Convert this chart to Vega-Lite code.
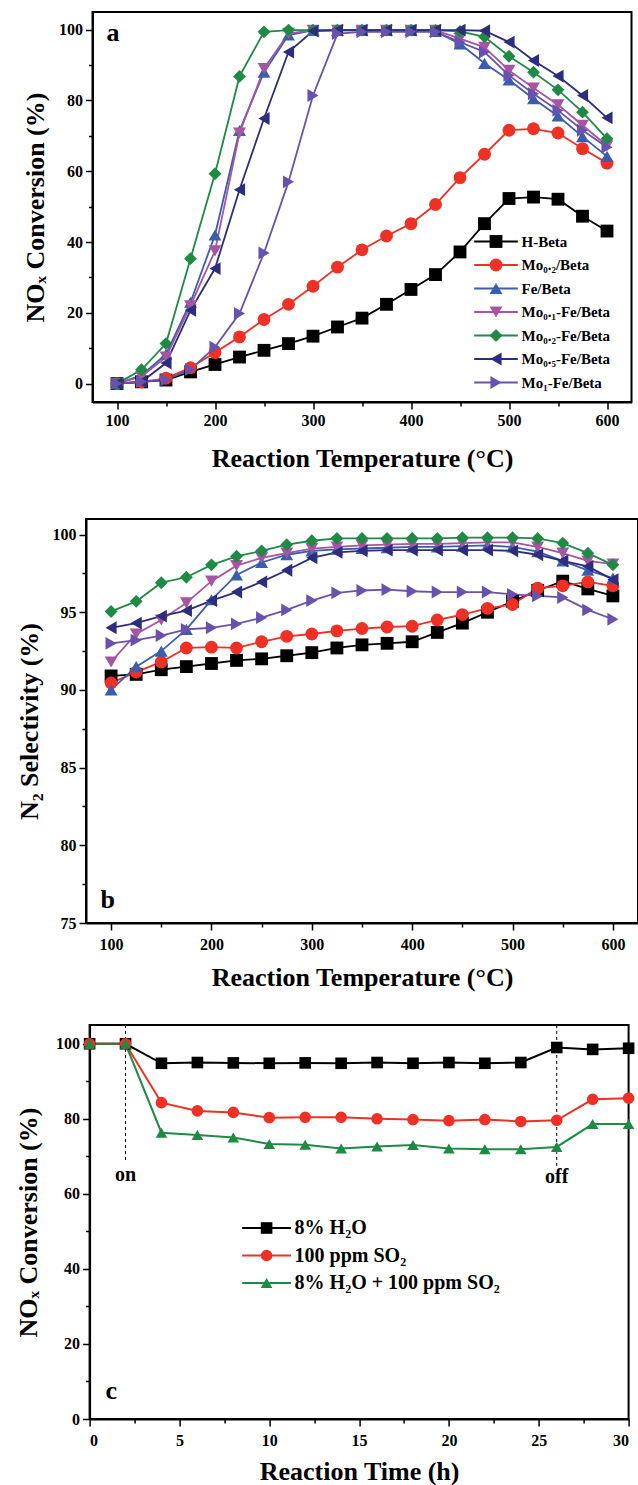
{
  "$schema": "https://vega.github.io/schema/vega-lite/v6.json",
  "background": "white",
  "padding": {"left": 14, "top": 11, "right": 0, "bottom": 0},
  "config": {
    "font": "Liberation Serif",
    "view": {"stroke": "black", "strokeWidth": 2},
    "axis": {"domainColor": "black", "domainWidth": 2, "tickColor": "black", "tickWidth": 1.5, "labelColor": "black", "titleColor": "black", "labelFont": "Liberation Serif", "titleFont": "Liberation Serif", "labelFontWeight": "bold", "titleFontWeight": "bold", "labelFontSize": 16, "titleFontSize": 26, "grid": false, "labelPadding": 3, "titlePadding": 10, "labelOverlap": false},
    "legend": {"labelFont": "Liberation Serif", "labelFontWeight": "bold", "labelColor": "black", "labelLimit": 0}
  },
  "datasets": {
    "a": [
      {"T":100,"s":"H-Beta","v":0},{"T":125,"s":"H-Beta","v":0.5},{"T":150,"s":"H-Beta","v":1},{"T":175,"s":"H-Beta","v":3.3},{"T":200,"s":"H-Beta","v":5.4},{"T":225,"s":"H-Beta","v":7.5},{"T":250,"s":"H-Beta","v":9.4},{"T":275,"s":"H-Beta","v":11.3},{"T":300,"s":"H-Beta","v":13.4},{"T":325,"s":"H-Beta","v":16},{"T":350,"s":"H-Beta","v":18.5},{"T":375,"s":"H-Beta","v":22.4},{"T":400,"s":"H-Beta","v":26.6},{"T":425,"s":"H-Beta","v":30.8},{"T":450,"s":"H-Beta","v":37.2},{"T":475,"s":"H-Beta","v":45.2},{"T":500,"s":"H-Beta","v":52.3},{"T":525,"s":"H-Beta","v":52.7},{"T":550,"s":"H-Beta","v":52.1},{"T":575,"s":"H-Beta","v":47.3},{"T":600,"s":"H-Beta","v":43.1},
      {"T":100,"s":"Mo₀.₂/Beta","v":0},{"T":125,"s":"Mo₀.₂/Beta","v":0.5},{"T":150,"s":"Mo₀.₂/Beta","v":1.5},{"T":175,"s":"Mo₀.₂/Beta","v":4.5},{"T":200,"s":"Mo₀.₂/Beta","v":8.8},{"T":225,"s":"Mo₀.₂/Beta","v":13.2},{"T":250,"s":"Mo₀.₂/Beta","v":18.1},{"T":275,"s":"Mo₀.₂/Beta","v":22.4},{"T":300,"s":"Mo₀.₂/Beta","v":27.5},{"T":325,"s":"Mo₀.₂/Beta","v":32.9},{"T":350,"s":"Mo₀.₂/Beta","v":37.8},{"T":375,"s":"Mo₀.₂/Beta","v":41.7},{"T":400,"s":"Mo₀.₂/Beta","v":45.2},{"T":425,"s":"Mo₀.₂/Beta","v":50.6},{"T":450,"s":"Mo₀.₂/Beta","v":58.2},{"T":475,"s":"Mo₀.₂/Beta","v":64.8},{"T":500,"s":"Mo₀.₂/Beta","v":71.6},{"T":525,"s":"Mo₀.₂/Beta","v":72},{"T":550,"s":"Mo₀.₂/Beta","v":70.8},{"T":575,"s":"Mo₀.₂/Beta","v":66.4},{"T":600,"s":"Mo₀.₂/Beta","v":62.3},
      {"T":100,"s":"Fe/Beta","v":0},{"T":125,"s":"Fe/Beta","v":2.3},{"T":150,"s":"Fe/Beta","v":8.3},{"T":175,"s":"Fe/Beta","v":23},{"T":200,"s":"Fe/Beta","v":42},{"T":225,"s":"Fe/Beta","v":71.5},{"T":250,"s":"Fe/Beta","v":88},{"T":275,"s":"Fe/Beta","v":98.5},{"T":300,"s":"Fe/Beta","v":99.8},{"T":325,"s":"Fe/Beta","v":99.8},{"T":350,"s":"Fe/Beta","v":99.8},{"T":375,"s":"Fe/Beta","v":99.8},{"T":400,"s":"Fe/Beta","v":99.8},{"T":425,"s":"Fe/Beta","v":99.5},{"T":450,"s":"Fe/Beta","v":96},{"T":475,"s":"Fe/Beta","v":90.5},{"T":500,"s":"Fe/Beta","v":85.8},{"T":525,"s":"Fe/Beta","v":80.5},{"T":550,"s":"Fe/Beta","v":75.6},{"T":575,"s":"Fe/Beta","v":69.8},{"T":600,"s":"Fe/Beta","v":64.2},
      {"T":100,"s":"Mo₀.₁-Fe/Beta","v":0},{"T":125,"s":"Mo₀.₁-Fe/Beta","v":2},{"T":150,"s":"Mo₀.₁-Fe/Beta","v":7.5},{"T":175,"s":"Mo₀.₁-Fe/Beta","v":22},{"T":200,"s":"Mo₀.₁-Fe/Beta","v":37.5},{"T":225,"s":"Mo₀.₁-Fe/Beta","v":70.8},{"T":250,"s":"Mo₀.₁-Fe/Beta","v":89},{"T":275,"s":"Mo₀.₁-Fe/Beta","v":99},{"T":300,"s":"Mo₀.₁-Fe/Beta","v":99.8},{"T":325,"s":"Mo₀.₁-Fe/Beta","v":99.8},{"T":350,"s":"Mo₀.₁-Fe/Beta","v":99.8},{"T":375,"s":"Mo₀.₁-Fe/Beta","v":99.8},{"T":400,"s":"Mo₀.₁-Fe/Beta","v":99.8},{"T":425,"s":"Mo₀.₁-Fe/Beta","v":99.8},{"T":450,"s":"Mo₀.₁-Fe/Beta","v":97.5},{"T":475,"s":"Mo₀.₁-Fe/Beta","v":95},{"T":500,"s":"Mo₀.₁-Fe/Beta","v":88.5},{"T":525,"s":"Mo₀.₁-Fe/Beta","v":83.5},{"T":550,"s":"Mo₀.₁-Fe/Beta","v":78.8},{"T":575,"s":"Mo₀.₁-Fe/Beta","v":73},{"T":600,"s":"Mo₀.₁-Fe/Beta","v":67.2},
      {"T":100,"s":"Mo₀.₂-Fe/Beta","v":0},{"T":125,"s":"Mo₀.₂-Fe/Beta","v":3.9},{"T":150,"s":"Mo₀.₂-Fe/Beta","v":11.3},{"T":175,"s":"Mo₀.₂-Fe/Beta","v":35.3},{"T":200,"s":"Mo₀.₂-Fe/Beta","v":59.3},{"T":225,"s":"Mo₀.₂-Fe/Beta","v":86.8},{"T":250,"s":"Mo₀.₂-Fe/Beta","v":99.4},{"T":275,"s":"Mo₀.₂-Fe/Beta","v":99.9},{"T":300,"s":"Mo₀.₂-Fe/Beta","v":99.9},{"T":325,"s":"Mo₀.₂-Fe/Beta","v":99.9},{"T":350,"s":"Mo₀.₂-Fe/Beta","v":99.9},{"T":375,"s":"Mo₀.₂-Fe/Beta","v":99.9},{"T":400,"s":"Mo₀.₂-Fe/Beta","v":99.9},{"T":425,"s":"Mo₀.₂-Fe/Beta","v":99.8},{"T":450,"s":"Mo₀.₂-Fe/Beta","v":99.5},{"T":475,"s":"Mo₀.₂-Fe/Beta","v":98},{"T":500,"s":"Mo₀.₂-Fe/Beta","v":92.5},{"T":525,"s":"Mo₀.₂-Fe/Beta","v":88},{"T":550,"s":"Mo₀.₂-Fe/Beta","v":83},{"T":575,"s":"Mo₀.₂-Fe/Beta","v":76.7},{"T":600,"s":"Mo₀.₂-Fe/Beta","v":69.2},
      {"T":100,"s":"Mo₀.₅-Fe/Beta","v":0},{"T":125,"s":"Mo₀.₅-Fe/Beta","v":0.5},{"T":150,"s":"Mo₀.₅-Fe/Beta","v":5.8},{"T":175,"s":"Mo₀.₅-Fe/Beta","v":20.7},{"T":200,"s":"Mo₀.₅-Fe/Beta","v":32.5},{"T":225,"s":"Mo₀.₅-Fe/Beta","v":54.8},{"T":250,"s":"Mo₀.₅-Fe/Beta","v":74.9},{"T":275,"s":"Mo₀.₅-Fe/Beta","v":93.7},{"T":300,"s":"Mo₀.₅-Fe/Beta","v":99.6},{"T":325,"s":"Mo₀.₅-Fe/Beta","v":99.9},{"T":350,"s":"Mo₀.₅-Fe/Beta","v":99.9},{"T":375,"s":"Mo₀.₅-Fe/Beta","v":99.9},{"T":400,"s":"Mo₀.₅-Fe/Beta","v":99.9},{"T":425,"s":"Mo₀.₅-Fe/Beta","v":99.9},{"T":450,"s":"Mo₀.₅-Fe/Beta","v":99.9},{"T":475,"s":"Mo₀.₅-Fe/Beta","v":99.7},{"T":500,"s":"Mo₀.₅-Fe/Beta","v":96.5},{"T":525,"s":"Mo₀.₅-Fe/Beta","v":91.3},{"T":550,"s":"Mo₀.₅-Fe/Beta","v":86.9},{"T":575,"s":"Mo₀.₅-Fe/Beta","v":81.4},{"T":600,"s":"Mo₀.₅-Fe/Beta","v":75.1},
      {"T":100,"s":"Mo₁-Fe/Beta","v":0},{"T":125,"s":"Mo₁-Fe/Beta","v":0.5},{"T":150,"s":"Mo₁-Fe/Beta","v":1.1},{"T":175,"s":"Mo₁-Fe/Beta","v":4},{"T":200,"s":"Mo₁-Fe/Beta","v":10.3},{"T":225,"s":"Mo₁-Fe/Beta","v":19.8},{"T":250,"s":"Mo₁-Fe/Beta","v":36.9},{"T":275,"s":"Mo₁-Fe/Beta","v":57},{"T":300,"s":"Mo₁-Fe/Beta","v":81.4},{"T":325,"s":"Mo₁-Fe/Beta","v":98.9},{"T":350,"s":"Mo₁-Fe/Beta","v":99.4},{"T":375,"s":"Mo₁-Fe/Beta","v":99.4},{"T":400,"s":"Mo₁-Fe/Beta","v":99.4},{"T":425,"s":"Mo₁-Fe/Beta","v":99.4},{"T":450,"s":"Mo₁-Fe/Beta","v":96.5},{"T":475,"s":"Mo₁-Fe/Beta","v":93.7},{"T":500,"s":"Mo₁-Fe/Beta","v":87.1},{"T":525,"s":"Mo₁-Fe/Beta","v":81.9},{"T":550,"s":"Mo₁-Fe/Beta","v":77.2},{"T":575,"s":"Mo₁-Fe/Beta","v":71.6},{"T":600,"s":"Mo₁-Fe/Beta","v":66.8}
    ],
    "b": [
      {"T":100,"s":"H-Beta","v":90.9},{"T":125,"s":"H-Beta","v":91.0},{"T":150,"s":"H-Beta","v":91.3},{"T":175,"s":"H-Beta","v":91.5},{"T":200,"s":"H-Beta","v":91.7},{"T":225,"s":"H-Beta","v":91.9},{"T":250,"s":"H-Beta","v":92.0},{"T":275,"s":"H-Beta","v":92.2},{"T":300,"s":"H-Beta","v":92.4},{"T":325,"s":"H-Beta","v":92.7},{"T":350,"s":"H-Beta","v":92.9},{"T":375,"s":"H-Beta","v":93.0},{"T":400,"s":"H-Beta","v":93.1},{"T":425,"s":"H-Beta","v":93.7},{"T":450,"s":"H-Beta","v":94.3},{"T":475,"s":"H-Beta","v":95.0},{"T":500,"s":"H-Beta","v":95.7},{"T":525,"s":"H-Beta","v":96.4},{"T":550,"s":"H-Beta","v":97.0},{"T":575,"s":"H-Beta","v":96.5},{"T":600,"s":"H-Beta","v":96.05},
      {"T":100,"s":"Mo₀.₂/Beta","v":90.45},{"T":125,"s":"Mo₀.₂/Beta","v":91.15},{"T":150,"s":"Mo₀.₂/Beta","v":91.8},{"T":175,"s":"Mo₀.₂/Beta","v":92.7},{"T":200,"s":"Mo₀.₂/Beta","v":92.75},{"T":225,"s":"Mo₀.₂/Beta","v":92.7},{"T":250,"s":"Mo₀.₂/Beta","v":93.1},{"T":275,"s":"Mo₀.₂/Beta","v":93.45},{"T":300,"s":"Mo₀.₂/Beta","v":93.6},{"T":325,"s":"Mo₀.₂/Beta","v":93.8},{"T":350,"s":"Mo₀.₂/Beta","v":93.95},{"T":375,"s":"Mo₀.₂/Beta","v":94.05},{"T":400,"s":"Mo₀.₂/Beta","v":94.1},{"T":425,"s":"Mo₀.₂/Beta","v":94.5},{"T":450,"s":"Mo₀.₂/Beta","v":94.85},{"T":475,"s":"Mo₀.₂/Beta","v":95.25},{"T":500,"s":"Mo₀.₂/Beta","v":95.5},{"T":525,"s":"Mo₀.₂/Beta","v":96.55},{"T":550,"s":"Mo₀.₂/Beta","v":96.7},{"T":575,"s":"Mo₀.₂/Beta","v":96.95},{"T":600,"s":"Mo₀.₂/Beta","v":96.7},
      {"T":100,"s":"Fe/Beta","v":90.0},{"T":125,"s":"Fe/Beta","v":91.5},{"T":150,"s":"Fe/Beta","v":92.5},{"T":175,"s":"Fe/Beta","v":93.9},{"T":200,"s":"Fe/Beta","v":95.8},{"T":225,"s":"Fe/Beta","v":97.4},{"T":250,"s":"Fe/Beta","v":98.2},{"T":275,"s":"Fe/Beta","v":98.7},{"T":300,"s":"Fe/Beta","v":98.95},{"T":325,"s":"Fe/Beta","v":99.05},{"T":350,"s":"Fe/Beta","v":99.1},{"T":375,"s":"Fe/Beta","v":99.15},{"T":400,"s":"Fe/Beta","v":99.2},{"T":425,"s":"Fe/Beta","v":99.2},{"T":450,"s":"Fe/Beta","v":99.25},{"T":475,"s":"Fe/Beta","v":99.3},{"T":500,"s":"Fe/Beta","v":99.2},{"T":525,"s":"Fe/Beta","v":98.9},{"T":550,"s":"Fe/Beta","v":98.3},{"T":575,"s":"Fe/Beta","v":97.7},{"T":600,"s":"Fe/Beta","v":97.2},
      {"T":100,"s":"Mo₀.₁-Fe/Beta","v":91.8},{"T":125,"s":"Mo₀.₁-Fe/Beta","v":93.6},{"T":150,"s":"Mo₀.₁-Fe/Beta","v":94.5},{"T":175,"s":"Mo₀.₁-Fe/Beta","v":95.6},{"T":200,"s":"Mo₀.₁-Fe/Beta","v":97.0},{"T":225,"s":"Mo₀.₁-Fe/Beta","v":98.0},{"T":250,"s":"Mo₀.₁-Fe/Beta","v":98.5},{"T":275,"s":"Mo₀.₁-Fe/Beta","v":98.8},{"T":300,"s":"Mo₀.₁-Fe/Beta","v":99.1},{"T":325,"s":"Mo₀.₁-Fe/Beta","v":99.2},{"T":350,"s":"Mo₀.₁-Fe/Beta","v":99.3},{"T":375,"s":"Mo₀.₁-Fe/Beta","v":99.35},{"T":400,"s":"Mo₀.₁-Fe/Beta","v":99.4},{"T":425,"s":"Mo₀.₁-Fe/Beta","v":99.4},{"T":450,"s":"Mo₀.₁-Fe/Beta","v":99.45},{"T":475,"s":"Mo₀.₁-Fe/Beta","v":99.5},{"T":500,"s":"Mo₀.₁-Fe/Beta","v":99.5},{"T":525,"s":"Mo₀.₁-Fe/Beta","v":99.2},{"T":550,"s":"Mo₀.₁-Fe/Beta","v":98.8},{"T":575,"s":"Mo₀.₁-Fe/Beta","v":98.3},{"T":600,"s":"Mo₀.₁-Fe/Beta","v":98.1},
      {"T":100,"s":"Mo₀.₂-Fe/Beta","v":95.05},{"T":125,"s":"Mo₀.₂-Fe/Beta","v":95.7},{"T":150,"s":"Mo₀.₂-Fe/Beta","v":96.9},{"T":175,"s":"Mo₀.₂-Fe/Beta","v":97.25},{"T":200,"s":"Mo₀.₂-Fe/Beta","v":98.05},{"T":225,"s":"Mo₀.₂-Fe/Beta","v":98.6},{"T":250,"s":"Mo₀.₂-Fe/Beta","v":98.95},{"T":275,"s":"Mo₀.₂-Fe/Beta","v":99.35},{"T":300,"s":"Mo₀.₂-Fe/Beta","v":99.6},{"T":325,"s":"Mo₀.₂-Fe/Beta","v":99.75},{"T":350,"s":"Mo₀.₂-Fe/Beta","v":99.75},{"T":375,"s":"Mo₀.₂-Fe/Beta","v":99.75},{"T":400,"s":"Mo₀.₂-Fe/Beta","v":99.75},{"T":425,"s":"Mo₀.₂-Fe/Beta","v":99.75},{"T":450,"s":"Mo₀.₂-Fe/Beta","v":99.8},{"T":475,"s":"Mo₀.₂-Fe/Beta","v":99.8},{"T":500,"s":"Mo₀.₂-Fe/Beta","v":99.8},{"T":525,"s":"Mo₀.₂-Fe/Beta","v":99.75},{"T":550,"s":"Mo₀.₂-Fe/Beta","v":99.45},{"T":575,"s":"Mo₀.₂-Fe/Beta","v":98.8},{"T":600,"s":"Mo₀.₂-Fe/Beta","v":98.05},
      {"T":100,"s":"Mo₀.₅-Fe/Beta","v":94.0},{"T":125,"s":"Mo₀.₅-Fe/Beta","v":94.3},{"T":150,"s":"Mo₀.₅-Fe/Beta","v":94.75},{"T":175,"s":"Mo₀.₅-Fe/Beta","v":95.1},{"T":200,"s":"Mo₀.₅-Fe/Beta","v":95.75},{"T":225,"s":"Mo₀.₅-Fe/Beta","v":96.3},{"T":250,"s":"Mo₀.₅-Fe/Beta","v":96.95},{"T":275,"s":"Mo₀.₅-Fe/Beta","v":97.7},{"T":300,"s":"Mo₀.₅-Fe/Beta","v":98.5},{"T":325,"s":"Mo₀.₅-Fe/Beta","v":98.85},{"T":350,"s":"Mo₀.₅-Fe/Beta","v":98.95},{"T":375,"s":"Mo₀.₅-Fe/Beta","v":99.0},{"T":400,"s":"Mo₀.₅-Fe/Beta","v":99.0},{"T":425,"s":"Mo₀.₅-Fe/Beta","v":99.0},{"T":450,"s":"Mo₀.₅-Fe/Beta","v":99.0},{"T":475,"s":"Mo₀.₅-Fe/Beta","v":99.0},{"T":500,"s":"Mo₀.₅-Fe/Beta","v":98.95},{"T":525,"s":"Mo₀.₅-Fe/Beta","v":98.7},{"T":550,"s":"Mo₀.₅-Fe/Beta","v":98.3},{"T":575,"s":"Mo₀.₅-Fe/Beta","v":97.95},{"T":600,"s":"Mo₀.₅-Fe/Beta","v":97.1},
      {"T":100,"s":"Mo₁-Fe/Beta","v":93.0},{"T":125,"s":"Mo₁-Fe/Beta","v":93.2},{"T":150,"s":"Mo₁-Fe/Beta","v":93.5},{"T":175,"s":"Mo₁-Fe/Beta","v":93.9},{"T":200,"s":"Mo₁-Fe/Beta","v":94.0},{"T":225,"s":"Mo₁-Fe/Beta","v":94.25},{"T":250,"s":"Mo₁-Fe/Beta","v":94.65},{"T":275,"s":"Mo₁-Fe/Beta","v":95.15},{"T":300,"s":"Mo₁-Fe/Beta","v":95.75},{"T":325,"s":"Mo₁-Fe/Beta","v":96.25},{"T":350,"s":"Mo₁-Fe/Beta","v":96.4},{"T":375,"s":"Mo₁-Fe/Beta","v":96.45},{"T":400,"s":"Mo₁-Fe/Beta","v":96.35},{"T":425,"s":"Mo₁-Fe/Beta","v":96.3},{"T":450,"s":"Mo₁-Fe/Beta","v":96.3},{"T":475,"s":"Mo₁-Fe/Beta","v":96.3},{"T":500,"s":"Mo₁-Fe/Beta","v":96.15},{"T":525,"s":"Mo₁-Fe/Beta","v":96.05},{"T":550,"s":"Mo₁-Fe/Beta","v":95.95},{"T":575,"s":"Mo₁-Fe/Beta","v":95.15},{"T":600,"s":"Mo₁-Fe/Beta","v":94.55}
    ],
    "c": [
      {"t":0,"s":"8% H₂O","v":100},{"t":2,"s":"8% H₂O","v":100},{"t":4,"s":"8% H₂O","v":94.8},{"t":6,"s":"8% H₂O","v":95},{"t":8,"s":"8% H₂O","v":94.9},{"t":10,"s":"8% H₂O","v":94.8},{"t":12,"s":"8% H₂O","v":94.9},{"t":14,"s":"8% H₂O","v":94.8},{"t":16,"s":"8% H₂O","v":95},{"t":18,"s":"8% H₂O","v":94.8},{"t":20,"s":"8% H₂O","v":95},{"t":22,"s":"8% H₂O","v":94.8},{"t":24,"s":"8% H₂O","v":95},{"t":26,"s":"8% H₂O","v":99},{"t":28,"s":"8% H₂O","v":98.5},{"t":30,"s":"8% H₂O","v":98.8},
      {"t":0,"s":"100 ppm SO₂","v":100},{"t":2,"s":"100 ppm SO₂","v":100},{"t":4,"s":"100 ppm SO₂","v":84.3},{"t":6,"s":"100 ppm SO₂","v":82.1},{"t":8,"s":"100 ppm SO₂","v":81.7},{"t":10,"s":"100 ppm SO₂","v":80.3},{"t":12,"s":"100 ppm SO₂","v":80.4},{"t":14,"s":"100 ppm SO₂","v":80.4},{"t":16,"s":"100 ppm SO₂","v":80},{"t":18,"s":"100 ppm SO₂","v":79.8},{"t":20,"s":"100 ppm SO₂","v":79.5},{"t":22,"s":"100 ppm SO₂","v":79.8},{"t":24,"s":"100 ppm SO₂","v":79.3},{"t":26,"s":"100 ppm SO₂","v":79.6},{"t":28,"s":"100 ppm SO₂","v":85.2},{"t":30,"s":"100 ppm SO₂","v":85.5},
      {"t":0,"s":"8% H₂O + 100 ppm SO₂","v":100},{"t":2,"s":"8% H₂O + 100 ppm SO₂","v":100},{"t":4,"s":"8% H₂O + 100 ppm SO₂","v":76.3},{"t":6,"s":"8% H₂O + 100 ppm SO₂","v":75.7},{"t":8,"s":"8% H₂O + 100 ppm SO₂","v":75},{"t":10,"s":"8% H₂O + 100 ppm SO₂","v":73.3},{"t":12,"s":"8% H₂O + 100 ppm SO₂","v":73.1},{"t":14,"s":"8% H₂O + 100 ppm SO₂","v":72.1},{"t":16,"s":"8% H₂O + 100 ppm SO₂","v":72.6},{"t":18,"s":"8% H₂O + 100 ppm SO₂","v":73},{"t":20,"s":"8% H₂O + 100 ppm SO₂","v":72.1},{"t":22,"s":"8% H₂O + 100 ppm SO₂","v":71.9},{"t":24,"s":"8% H₂O + 100 ppm SO₂","v":71.9},{"t":26,"s":"8% H₂O + 100 ppm SO₂","v":72.5},{"t":28,"s":"8% H₂O + 100 ppm SO₂","v":78.6},{"t":30,"s":"8% H₂O + 100 ppm SO₂","v":78.6}
    ],
    "labA": [{"T":95.8,"v":99.2,"txt":"a"}],
    "labB": [{"T":96.6,"v":76.5,"txt":"b"}],
    "labC": [{"t":1.2,"v":7.5,"txt":"c"}],
    "cRules": [{"t":2,"v":105,"v2":69},{"t":26,"v":105,"v2":67}],
    "cText": [{"t":2,"v":65,"txt":"on"},{"t":26,"v":64.5,"txt":"off"}]
  },
  "spacing": 32,
  "center": true,
  "resolve": {"scale": {"x": "independent", "y": "independent", "color": "independent", "shape": "independent", "stroke": "independent"}, "legend": {"color": "independent", "shape": "independent", "stroke": "independent"}},
  "vconcat": [
    {
      "width": 539, "height": 390,
      "encoding": {
        "x": {"field": "T", "type": "quantitative", "title": "Reaction Temperature (°C)", "scale": {"domain": [75, 625], "nice": false, "zero": false},
          "axis": {"values": [100,150,200,250,300,350,400,450,500,550,600], "labelExpr": "datum.value % 100 === 0 ? datum.label : ''", "tickSize": {"condition": {"test": "datum.value % 100 === 0", "value": 7}, "value": 4}, "titlePadding": 17}},
        "y": {"field": "v", "type": "quantitative", "title": "NOₓ Conversion (%)", "scale": {"domain": [-5.2, 105], "nice": false, "zero": false},
          "axis": {"values": [0,10,20,30,40,50,60,70,80,90,100], "labelExpr": "datum.value % 20 === 0 ? datum.label : ''", "tickSize": {"condition": {"test": "datum.value % 20 === 0", "value": 7}, "value": 4}}}
      },
      "layer": [
        {"data": {"name": "a"}, "mark": {"type": "line", "strokeWidth": 1.8},
          "encoding": {"stroke": {"field": "s", "type": "nominal",
            "legend": {"orient": "none", "legendX": 396, "legendY": 222, "title": null, "values": ["H-Beta","Mo₀.₂/Beta","Fe/Beta","Mo₀.₁-Fe/Beta","Mo₀.₂-Fe/Beta","Mo₀.₅-Fe/Beta","Mo₁-Fe/Beta"], "symbolType": "M-3.4,0H3.4", "symbolSize": 165, "symbolStrokeWidth": 1.8, "labelFontSize": 15, "labelOpacity": 0, "rowPadding": 7.5, "labelOffset": 18, "padding": 0},
            "scale": {"domain": ["Mo₁-Fe/Beta","Mo₀.₅-Fe/Beta","Mo₀.₂-Fe/Beta","Mo₀.₁-Fe/Beta","Fe/Beta","Mo₀.₂/Beta","H-Beta"], "range": ["#6952AE","#2E2C7C","#1F8A44","#A754A3","#3A5DAE","#EE3124","#000000"]}}}},
        {"data": {"name": "a"}, "mark": {"type": "point", "filled": true, "opacity": 1, "size": 165},
          "encoding": {
            "color": {"field": "s", "type": "nominal", "scale": {"domain": ["H-Beta","Mo₀.₂/Beta","Fe/Beta","Mo₀.₁-Fe/Beta","Mo₀.₂-Fe/Beta","Mo₀.₅-Fe/Beta","Mo₁-Fe/Beta"], "range": ["#000000","#EE3124","#3A5DAE","#A754A3","#1F8A44","#2E2C7C","#6952AE"]},
              "legend": {"orient": "none", "legendX": 396, "legendY": 222, "title": null, "labelFontSize": 15, "symbolSize": 165, "rowPadding": 7.5, "labelOffset": 18, "padding": 0, "symbolStrokeWidth": 0}},
            "shape": {"field": "s", "type": "nominal", "scale": {"domain": ["H-Beta","Mo₀.₂/Beta","Fe/Beta","Mo₀.₁-Fe/Beta","Mo₀.₂-Fe/Beta","Mo₀.₅-Fe/Beta","Mo₁-Fe/Beta"], "range": ["square","circle","triangle-up","triangle-down","diamond","triangle-left","triangle-right"]},
              "legend": {"orient": "none", "legendX": 396, "legendY": 222, "title": null, "labelFontSize": 15, "symbolSize": 165, "rowPadding": 7.5, "labelOffset": 18, "padding": 0, "symbolStrokeWidth": 0}}
          }},
        {"data": {"name": "labA"}, "mark": {"type": "text", "fontSize": 26, "fontWeight": "bold", "font": "Liberation Serif", "color": "black"},
          "encoding": {"text": {"field": "txt"}}}
      ]
    },
    {
      "width": 552, "height": 404,
      "title": {"text": " ", "fontSize": 1, "offset": 13},
      "encoding": {
        "x": {"field": "T", "type": "quantitative", "title": "Reaction Temperature (°C)", "scale": {"domain": [75, 625], "nice": false, "zero": false},
          "axis": {"values": [100,150,200,250,300,350,400,450,500,550,600], "labelExpr": "datum.value % 100 === 0 ? datum.label : ''", "tickSize": {"condition": {"test": "datum.value % 100 === 0", "value": 7}, "value": 4}, "labelPadding": 6, "titlePadding": 12}},
        "y": {"field": "v", "type": "quantitative", "title": "N₂ Selectivity (%)", "scale": {"domain": [75, 101], "nice": false, "zero": false},
          "axis": {"values": [75,77.5,80,82.5,85,87.5,90,92.5,95,97.5,100], "labelExpr": "datum.value % 5 === 0 ? datum.label : ''", "tickSize": {"condition": {"test": "datum.value % 5 === 0", "value": 7}, "value": 4}}}
      },
      "layer": [
        {"data": {"name": "b"}, "mark": {"type": "line", "strokeWidth": 1.8},
          "encoding": {"stroke": {"field": "s", "type": "nominal", "legend": null, "scale": {"domain": ["H-Beta","Mo₀.₂/Beta","Fe/Beta","Mo₀.₁-Fe/Beta","Mo₀.₂-Fe/Beta","Mo₀.₅-Fe/Beta","Mo₁-Fe/Beta"], "range": ["#000000","#EE3124","#3A5DAE","#A754A3","#1F8A44","#2E2C7C","#6952AE"]}}}},
        {"data": {"name": "b"}, "mark": {"type": "point", "filled": true, "opacity": 1, "size": 165},
          "encoding": {
            "color": {"field": "s", "type": "nominal", "legend": null, "scale": {"domain": ["H-Beta","Mo₀.₂/Beta","Fe/Beta","Mo₀.₁-Fe/Beta","Mo₀.₂-Fe/Beta","Mo₀.₅-Fe/Beta","Mo₁-Fe/Beta"], "range": ["#000000","#EE3124","#3A5DAE","#A754A3","#1F8A44","#2E2C7C","#6952AE"]}},
            "shape": {"field": "s", "type": "nominal", "legend": null, "scale": {"domain": ["H-Beta","Mo₀.₂/Beta","Fe/Beta","Mo₀.₁-Fe/Beta","Mo₀.₂-Fe/Beta","Mo₀.₅-Fe/Beta","Mo₁-Fe/Beta"], "range": ["square","circle","triangle-up","triangle-down","diamond","triangle-left","triangle-right"]}}
          }},
        {"data": {"name": "labB"}, "mark": {"type": "text", "fontSize": 26, "fontWeight": "bold", "font": "Liberation Serif", "color": "black"},
          "encoding": {"text": {"field": "txt"}}}
      ]
    },
    {
      "width": 539, "height": 394,
      "encoding": {
        "x": {"field": "t", "type": "quantitative", "title": "Reaction Time (h)", "scale": {"domain": [0, 30], "nice": false},
          "axis": {"values": [0,2.5,5,7.5,10,12.5,15,17.5,20,22.5,25,27.5,30], "labelExpr": "datum.value % 5 === 0 ? datum.label : ''", "tickSize": {"condition": {"test": "datum.value % 5 === 0", "value": 7}, "value": 4}, "labelPadding": 6, "titlePadding": 10}},
        "y": {"field": "v", "type": "quantitative", "title": "NOₓ Conversion (%)", "scale": {"domain": [0, 105], "nice": false},
          "axis": {"values": [0,10,20,30,40,50,60,70,80,90,100], "labelExpr": "datum.value % 20 === 0 ? datum.label : ''", "tickSize": {"condition": {"test": "datum.value % 20 === 0", "value": 7}, "value": 4}, "titlePadding": 14}}
      },
      "layer": [
        {"data": {"name": "cRules"}, "mark": {"type": "rule", "strokeDash": [3, 3], "strokeWidth": 1, "color": "black"},
          "encoding": {"y2": {"field": "v2"}}},
        {"data": {"name": "cText"}, "mark": {"type": "text", "fontSize": 20, "fontWeight": "bold", "font": "Liberation Serif", "color": "black"},
          "encoding": {"text": {"field": "txt"}}},
        {"data": {"name": "c"}, "mark": {"type": "line", "strokeWidth": 2},
          "encoding": {"stroke": {"field": "s", "type": "nominal",
            "legend": {"orient": "none", "legendX": 167, "legendY": 193, "title": null, "values": ["8% H₂O","100 ppm SO₂","8% H₂O + 100 ppm SO₂"], "symbolType": "M-4.2,0H4.2", "symbolSize": 135, "symbolStrokeWidth": 2, "labelFontSize": 20, "labelOpacity": 0, "rowPadding": 7.5, "labelOffset": 18, "padding": 0},
            "scale": {"domain": ["8% H₂O + 100 ppm SO₂","100 ppm SO₂","8% H₂O"], "range": ["#1F8A44","#EE3124","#000000"]}}}},
        {"data": {"name": "c"}, "mark": {"type": "point", "filled": true, "opacity": 1, "size": 135},
          "encoding": {
            "color": {"field": "s", "type": "nominal", "scale": {"domain": ["8% H₂O","100 ppm SO₂","8% H₂O + 100 ppm SO₂"], "range": ["#000000","#EE3124","#1F8A44"]},
              "legend": {"orient": "none", "legendX": 167, "legendY": 193, "title": null, "labelFontSize": 20, "symbolSize": 135, "rowPadding": 7.5, "labelOffset": 18, "padding": 0, "symbolStrokeWidth": 0}},
            "shape": {"field": "s", "type": "nominal", "scale": {"domain": ["8% H₂O","100 ppm SO₂","8% H₂O + 100 ppm SO₂"], "range": ["square","circle","triangle-up"]},
              "legend": {"orient": "none", "legendX": 167, "legendY": 193, "title": null, "labelFontSize": 20, "symbolSize": 135, "rowPadding": 7.5, "labelOffset": 18, "padding": 0, "symbolStrokeWidth": 0}}
          }},
        {"data": {"name": "labC"}, "mark": {"type": "text", "fontSize": 26, "fontWeight": "bold", "font": "Liberation Serif", "color": "black"},
          "encoding": {"text": {"field": "txt"}}}
      ]
    }
  ]
}
